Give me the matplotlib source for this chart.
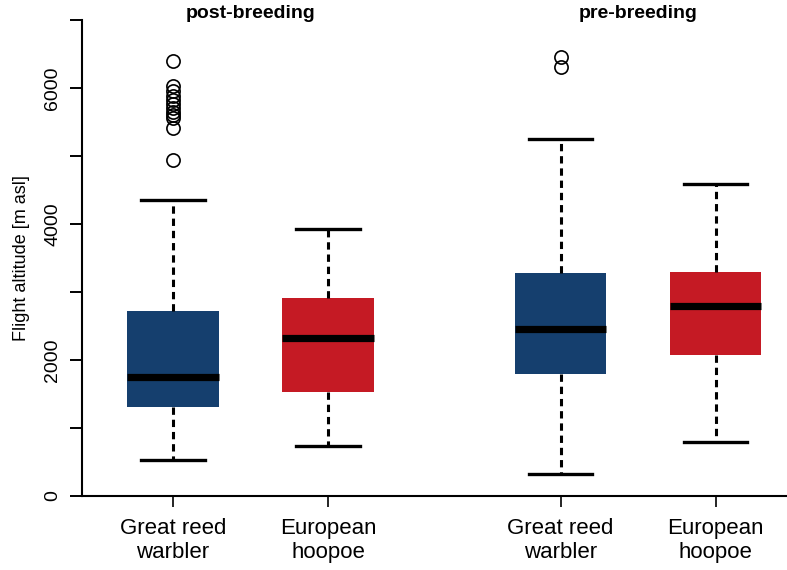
import matplotlib
matplotlib.use("Agg")
import matplotlib.pyplot as plt

plt.rcParams["font.family"] = ["Liberation Sans", "DejaVu Sans"]

# --- data -----------------------------------------------------------------
SEASONS   = ["post-breeding", "pre-breeding"]
LABELS    = ["Great reed\nwarbler", "European\nhoopoe", "Great reed\nwarbler", "European\nhoopoe"]
POSITIONS = [1, 2, 3.5, 4.5]
WHISK_LO  = [530, 730, 320, 800]
Q1        = [1310, 1530, 1790, 2080]
MEDIAN    = [1750, 2320, 2455, 2800]
Q3        = [2720, 2910, 3280, 3300]
WHISK_HI  = [4360, 3930, 5250, 4590]
OUTLIERS  = [
    [6400, 6030, 5950, 5880, 5820, 5760, 5700, 5650, 5600, 5560, 5410, 4940],
    [],
    [6460, 6310],
    [],
]
COLORS = ["#153F6E", "#C51A24", "#153F6E", "#C51A24"]

stats = []
for i in range(len(LABELS)):
    stats.append(dict(whislo=WHISK_LO[i], q1=Q1[i], med=MEDIAN[i],
                      q3=Q3[i], whishi=WHISK_HI[i], fliers=OUTLIERS[i]))

fig = plt.figure(figsize=(7.87, 5.70), dpi=100)
W, H = 787, 570
ax = fig.add_axes([82 / W, (H - 496) / H, (787 - 82) / W, (496 - 20) / H])

bp = ax.bxp(stats, positions=POSITIONS, widths=0.59, capwidths=0.41,
            patch_artist=True, showfliers=True,
            boxprops=dict(linewidth=0),
            whiskerprops=dict(linestyle=(0, (2.4, 1.6)), linewidth=2.2, color="black"),
            capprops=dict(linewidth=2.4, color="black"),
            medianprops=dict(linewidth=5.2, color="black", solid_capstyle="butt"),
            flierprops=dict(marker="o", markersize=9.5, markerfacecolor="none",
                            markeredgecolor="black", markeredgewidth=1.2))
for patch, c in zip(bp["boxes"], COLORS):
    patch.set_facecolor(c)
    patch.set_edgecolor(c)

ax.set_xlim(0.413, 4.96)
ax.set_ylim(0, 7000)

ax.spines["top"].set_visible(False)
ax.spines["right"].set_visible(False)
ax.spines["left"].set_bounds(0, 7000)
ax.spines["left"].set_linewidth(1.5)
ax.spines["bottom"].set_linewidth(1.5)

ax.set_yticks(range(0, 7001, 1000))
ax.set_yticklabels([str(v) if v % 2000 == 0 else "" for v in range(0, 7001, 1000)],
                   rotation=90, va="center")
ax.tick_params(axis="y", length=9, width=1.4, labelsize=14, pad=6)
ax.set_xticks(POSITIONS)
ax.set_xticklabels(LABELS, fontsize=16, linespacing=1.2)
ax.tick_params(axis="x", length=8, width=1.2, pad=8)

ax.set_ylabel("Flight altitude [m asl]", fontsize=13, labelpad=10)

# season headers sit just above the top of the axis, centred over each pair
for s, (a, b) in zip(SEASONS, [(0, 1), (2, 3)]):
    ax.text((POSITIONS[a] + POSITIONS[b]) / 2, 7100, s,
            ha="center", va="center", fontsize=14, fontweight="bold", clip_on=False)

fig.savefig("out.png", dpi=100)
